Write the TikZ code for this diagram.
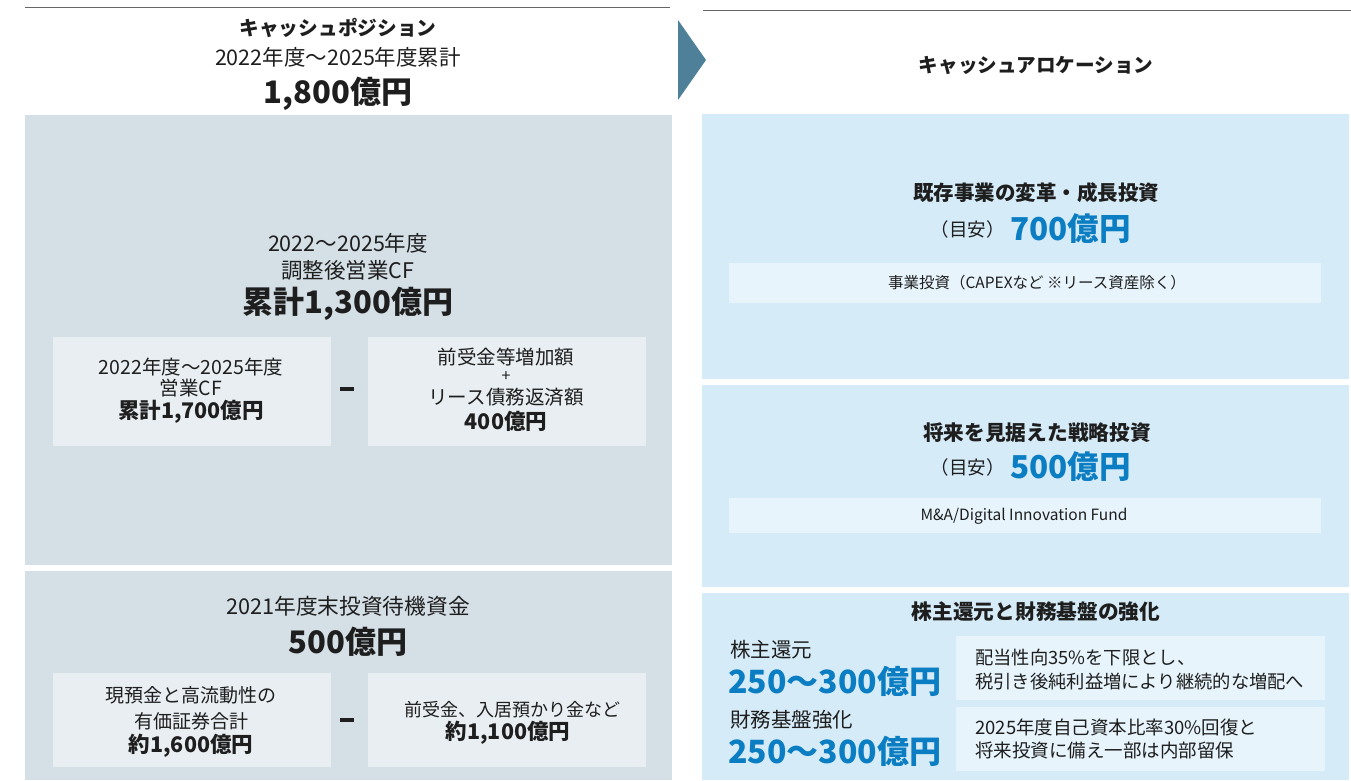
\documentclass[tikz,border=0pt]{standalone}
\usepackage{fontspec}
\setmainfont{Noto Sans CJK JP}
\definecolor{leftbg}{HTML}{D5DFE6}
\definecolor{leftin}{HTML}{E8EEF2}
\definecolor{rightbg}{HTML}{D5EBF8}
\definecolor{rightin}{HTML}{E7F4FC}
\definecolor{arrowc}{HTML}{4E8199}
\definecolor{bluet}{HTML}{0B7DC2}
\definecolor{txt}{HTML}{1E1E1E}
\tikzset{
  panel/.style={fill=#1,draw=none},
  t/.style={text=txt,inner sep=0pt,align=center},
  lt/.style={text=txt,inner sep=0pt,anchor=west,align=left},
  minusbar/.style={fill=txt,inner sep=0pt,minimum width=14pt,minimum height=4pt},
}
\newcommand{\fs}[2]{\fontsize{#1}{#2}\selectfont}
\begin{document}
\begin{tikzpicture}[x=1pt,y=-1pt]
\useasboundingbox (0,0) rectangle (1351,780);
% top lines
\draw[gray!80!black,line width=1pt] (25,7) -- (670,7);
\draw[gray!80!black,line width=1pt] (703,10) -- (1351,10);
% arrow
\fill[arrowc] (678,20) -- (706,60) -- (678,100) -- cycle;
% left panels
\fill[leftbg] (25,115) rectangle (672,565);
\fill[leftbg] (25,571) rectangle (672,780);
\fill[leftin] (53,337) rectangle (331,446);
\fill[leftin] (368,337) rectangle (646,446);
\fill[leftin] (53,673) rectangle (331,767);
\fill[leftin] (368,673) rectangle (646,767);
% right panels
\fill[rightbg] (702,114) rectangle (1349,379);
\fill[rightbg] (702,385) rectangle (1349,587);
\fill[rightbg] (702,593) rectangle (1349,780);
\fill[rightin] (729,263) rectangle (1321,303);
\fill[rightin] (729,498) rectangle (1321,533);
\fill[rightin] (956,636) rectangle (1325,700);
\fill[rightin] (956,707) rectangle (1325,771);
% header texts
\node[t,font=\fs{19.7}{22}\bfseries] (h1) at (338,28) {キャッシュポジション};
\node[t,font=\fs{21.5}{24}] (h2) at (338,57) {2022年度〜2025年度累計};
\node[t,font=\fs{31}{34}\bfseries] (h3) at (338,94) {1,800億円};
\node[t,font=\fs{19.6}{22}\bfseries] (h4) at (1036,65) {キャッシュアロケーション};
% left box 1
\node[t,font=\fs{21.5}{24}] (a1) at (348,243) {2022〜2025年度};
\node[t,font=\fs{21.5}{24}] (a2) at (348,270) {調整後営業CF};
\node[t,font=\fs{31}{34}\bfseries] (a3) at (348,304) {累計1,300億円};
\node[t,font=\fs{19.5}{22}] (b1) at (191,367) {2022年度〜2025年度};
\node[t,font=\fs{19.5}{22}] (b2) at (191,388) {営業CF};
\node[t,font=\fs{21.5}{24}\bfseries] (b3) at (191,412) {累計1,700億円};
\node[minusbar] (m1) at (347,389) {};
\node[t,font=\fs{19.5}{22}] (c1) at (506,357) {前受金等増加額};
\node[t,font=\fs{16}{18}] (c2) at (506,377) {+};
\node[t,font=\fs{19.5}{22}] (c3) at (506,397) {リース債務返済額};
\node[t,font=\fs{21.5}{24}\bfseries] (c4) at (506,421) {400億円};
% left box 2
\node[t,font=\fs{21.7}{24}] (d1) at (348,606) {2021年度末投資待機資金};
\node[t,font=\fs{31}{34}\bfseries] (d2) at (348,642) {500億円};
\node[t,font=\fs{19}{22}] (e1) at (191,695) {現預金と高流動性の};
\node[t,font=\fs{19}{22}] (e2) at (191,721) {有価証券合計};
\node[t,font=\fs{21.5}{24}\bfseries] (e3) at (191,746) {約1,600億円};
\node[minusbar] (m2) at (347,720) {};
\node[t,font=\fs{18}{22}] (f1) at (512,710) {前受金、入居預かり金など};
\node[t,font=\fs{21.5}{24}\bfseries] (f2) at (508,733) {約1,100億円};
% right box 1
\node[t,font=\fs{20.5}{23}\bfseries] (g1) at (1036,193) {既存事業の変革・成長投資};
\node[t,font=\fs{18.5}{22},anchor=east] (g2) at (1005,229) {（目安）};
\node[t,font=\fs{31.5}{34}\bfseries,text=bluet,anchor=west] (g3) at (1010,229) {700億円};
\node[t,font=\fs{15.5}{18}] (g4) at (1037,283) {事業投資（CAPEXなど ※リース資産除く）};
% right box 2
\node[t,font=\fs{20.7}{23}\bfseries] (k1) at (1037,433) {将来を見据えた戦略投資};
\node[t,font=\fs{18.5}{22},anchor=east] (k2) at (1005,467) {（目安）};
\node[t,font=\fs{31.5}{34}\bfseries,text=bluet,anchor=west] (k3) at (1010,467) {500億円};
\node[t,font=\fs{15.5}{18}] (k4) at (1024,516) {M\&A/Digital Innovation Fund};
% right box 3
\node[t,font=\fs{20.7}{23}\bfseries] (p1) at (1036,612) {株主還元と財務基盤の強化};
\node[lt,font=\fs{20.5}{23}] (p2) at (730,650) {株主還元};
\node[lt,font=\fs{32}{34}\bfseries,text=bluet] (p3) at (728,681) {250〜300億円};
\node[lt,font=\fs{20.5}{23}] (p4) at (730,720) {財務基盤強化};
\node[lt,font=\fs{32}{34}\bfseries,text=bluet] (p5) at (728,751) {250〜300億円};
\node[lt,font=\fs{18.3}{22}] (q1) at (975,658) {配当性向35\%を下限とし、};
\node[lt,font=\fs{18.3}{22}] (q2) at (975,682) {税引き後純利益増により継続的な増配へ};
\node[lt,font=\fs{18.5}{22}] (q3) at (975,727) {2025年度自己資本比率30\%回復と};
\node[lt,font=\fs{18.5}{22}] (q4) at (975,750) {将来投資に備え一部は内部留保};
\end{tikzpicture}
\end{document}
